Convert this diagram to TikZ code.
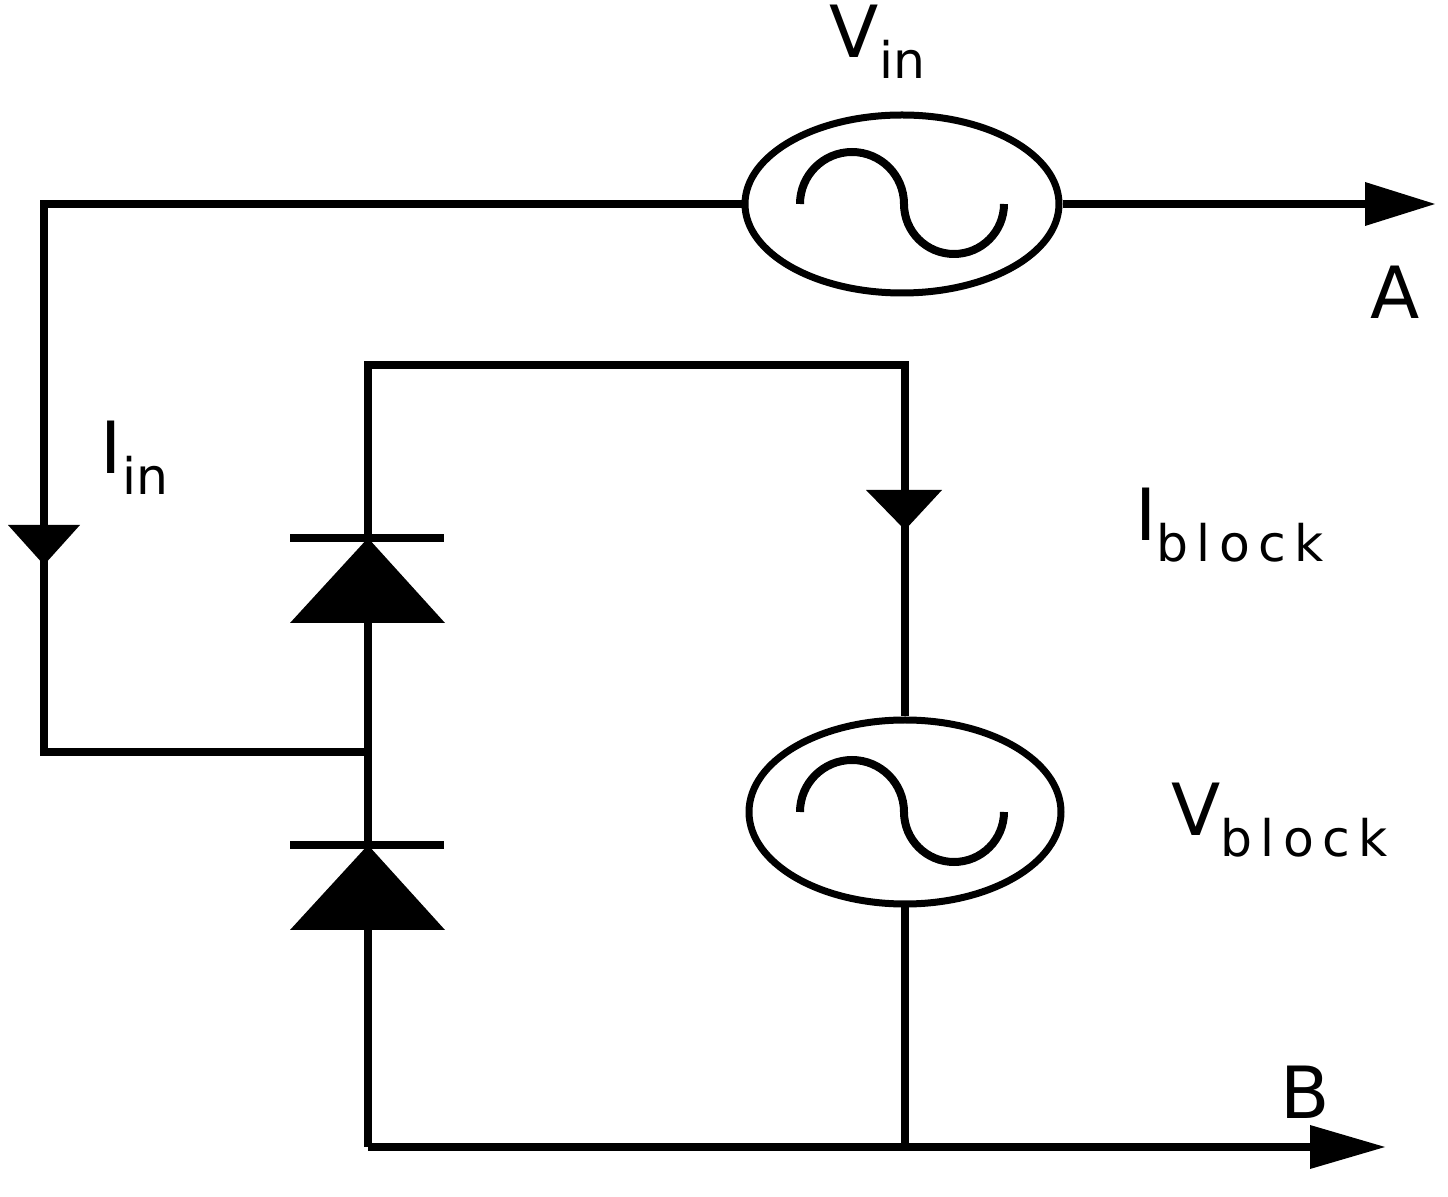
\documentclass[tikz,border=0pt]{standalone}
\usepackage{fontspec}
\setmainfont{DejaVu Sans}
\usetikzlibrary{shapes.geometric}
\begin{document}
\begin{tikzpicture}[x=0.5pt,y=-0.5pt,line width=4pt,
  lbl/.style={font=\fontsize{36}{42}\selectfont},
  src/.style={ellipse,draw,line width=3.5pt},
  ]
\useasboundingbox (0,0) rectangle (1448,1197);
\node[src,minimum width=157pt,minimum height=89pt] (vin) at (902,204) {};
\node[src,minimum width=156pt,minimum height=92pt] (vb) at (905,812) {};
\coordinate (tl) at (44,204);
\coordinate (bl) at (44,752);
\coordinate (mid) at (368,752);
\coordinate (dt) at (368,365);
\coordinate (rt) at (905,365);
\coordinate (db) at (368,1147);
\coordinate (rb) at (905,1147);
\coordinate (A) at (1435,204);
\coordinate (B) at (1385,1147);
\draw (vin.west) -- (tl) -- (bl) -- (mid);
\draw (vin.east) -- (1365,204);
\fill (1365,182) -- (A) -- (1365,226) -- cycle;
\draw (db) -- (1310,1147);
\fill (1310,1125) -- (B) -- (1310,1169) -- cycle;
\draw (db) -- (dt) -- (rt) -- (vb.north);
\draw (vb.south) -- (rb);
\fill (8,525) -- (80,525) -- (44,565) -- cycle;
\fill (866,490) -- (942,490) -- (905,530) -- cycle;
\foreach \y in {538,845}{
  \draw (290,\y) -- (444,\y);
  \fill (290,\y+85) -- (445,\y+85) -- (368,\y) -- cycle;
}
\foreach \c in {204,812}{
  \draw (800,\c) arc[start angle=180,end angle=360,radius=52] arc[start angle=180,end angle=0,radius=50];
}
\node[lbl] (t1) at (878,42) {V\textsubscript{in}};
\node[lbl] (t2) at (1395,292) {A};
\node[lbl] (t3) at (135,458) {I\textsubscript{in}};
\node[lbl] (t4) at (1230,525) {I\textsubscript{b\,l\,o\,c\,k}};
\node[lbl] (t5) at (1280,820) {V\textsubscript{b\,l\,o\,c\,k}};
\node[lbl] (t6) at (1305,1092) {B};
\end{tikzpicture}
\end{document}
